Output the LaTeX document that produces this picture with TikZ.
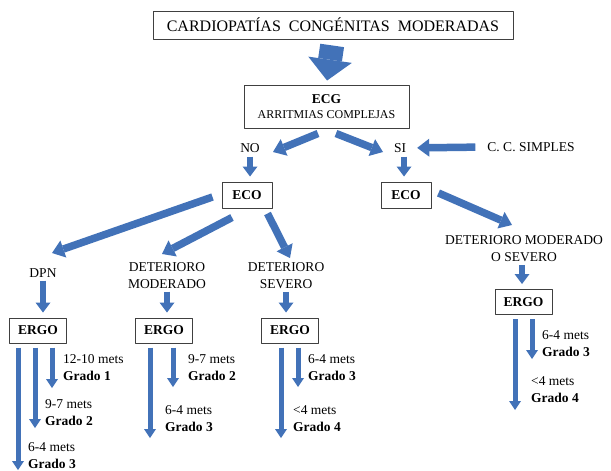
\documentclass[tikz,border=0pt]{standalone}
\usepackage{fontspec}
\setmainfont{Liberation Serif}
\usetikzlibrary{arrows.meta}
\definecolor{azul}{RGB}{66,114,184}
\begin{document}
\begin{tikzpicture}[x=1pt, y=-1pt, line join=round, font=\fontsize{13.5}{17}\selectfont,
	caja/.style={draw=black!75, line width=1pt, fill=white, inner sep=0pt, align=center},
	texto/.style={inner sep=1pt, align=center},
	flecha/.style={draw=azul, line width=7.5pt, -{Triangle[width=18pt,length=12pt,line width=0pt]}},
	bajada/.style={draw=azul, line width=6.5pt, -{Triangle[width=15pt,length=10pt,line width=0pt]}},
	grado/.style={draw=azul, line width=5pt, -{Triangle[width=12pt,length=9pt,line width=0pt]}, shorten <=4pt}]
	\useasboundingbox (0,0) rectangle (611,471);
	\node [caja, minimum width=360pt, minimum height=28pt, font=\fontsize{16}{18}\selectfont] (titulo) at (333,25) {CARDIOPATÍAS\ \ CONGÉNITAS\ \ MODERADAS};
	\node [caja, minimum width=165pt, minimum height=43pt] (ecg) at (326.5,106.5) {\textbf{ECG}\\[-2pt]{\fontsize{12}{14}\selectfont ARRITMIAS COMPLEJAS}};
	\node [texto] (no) at (250,148) {NO};
	\node [texto] (si) at (400,148) {SI};
	\node [texto] (ccs) at (531,147) {C. C. SIMPLES};
	\node [caja, minimum width=50pt, minimum height=26pt] (ecoL) at (247,195) {\textbf{ECO}};
	\node [caja, minimum width=50pt, minimum height=26pt] (ecoR) at (406,195) {\textbf{ECO}};
	\node [texto] (dpn) at (43,273) {DPN};
	\node [texto] (detMod) at (167,275.5) {DETERIORO\\MODERADO};
	\node [texto] (detSev) at (286,275.5) {DETERIORO\\SEVERO};
	\node [texto] (detMS) at (524,248.5) {DETERIORO MODERADO\\O SEVERO};
	\foreach \n/\x/\y in {ergoA/38/330.5,ergoB/164/330.5,ergoC/290/330.5,ergoD/523.5/302}{
		\node [caja, minimum width=57pt, minimum height=25pt] (\n) at (\x,\y) {\textbf{ERGO}};
	}
	\draw [azul, line width=24pt, -{Triangle[width=44pt,length=21pt,line width=0pt]}, shorten <=6pt, shorten >=4pt] (titulo.south) -- (ecg.north);
	\draw [flecha] ([xshift=-8.5pt,yshift=-5pt]ecg.south) -- ([xshift=23pt,yshift=-4pt]no.center);
	\draw [flecha] ([xshift=9.5pt,yshift=-5pt]ecg.south) -- ([xshift=-17pt,yshift=-4pt]si.center);
	\draw [flecha, shorten <=11pt, shorten >=10pt] (ccs.west) -- (si.east);
	\draw [bajada, shorten <=3pt, shorten >=5pt] (no.south) -- (no.south |- ecoL.north);
	\draw [bajada, shorten <=3pt, shorten >=5pt] ([xshift=4pt]si.south) -- ([xshift=4pt]si.south |- ecoR.north);
	\draw [flecha] ([xshift=-9pt,yshift=-2pt]ecoL.west) -- ([xshift=9pt,yshift=20pt]dpn.center);
	\draw [flecha] ([xshift=-15pt,yshift=-9pt]ecoL.south) -- ([xshift=-5pt,yshift=21.5pt]detMod.center);
	\draw [flecha] ([xshift=-5pt,yshift=-5pt]ecoL.south east) -- ([xshift=4pt,yshift=17.5pt]detSev.center);
	\draw [flecha] ([xshift=7pt,yshift=2pt]ecoR.east) -- ([xshift=-12pt,yshift=23.5pt]detMS.center);
	\draw [bajada, shorten <=2pt, shorten >=5pt] (dpn.south) -- (dpn.south |- ergoA.north);
	\draw [bajada, shorten <=2pt, shorten >=5pt] (detMod.south) -- (detMod.south |- ergoB.north);
	\draw [bajada, shorten <=2pt, shorten >=5pt] (detSev.south) -- (detSev.south |- ergoC.north);
	\draw [bajada, shorten <=2pt, shorten >=5pt] ([xshift=-2pt]detMS.south) -- ([xshift=-2pt]detMS.south |- ergoD.north);
	\foreach \c/\n/\x/\y in {ergoA/a1/18/470,ergoA/a2/35/428,ergoA/a3/52/388,ergoB/b1/150/438,ergoB/b2/173/387,
		ergoC/c1/281/438,ergoC/c2/298/387,ergoD/d1/515/410,ergoD/d2/532/359}{
		\coordinate (\n) at (\x,\y);
		\draw [grado] (\c.south -| \n) -- (\n);
	}
	\foreach \n/\x/\y/\m/\g in {ta1/63/367.5/12-10/1,ta2/45/412.5/9-7/2,ta3/28/455.5/6-4/3,tb1/188/367.5/9-7/2,tb2/165/418.5/6-4/3,
		tc1/308/367.5/6-4/3,tc2/293/418.5/<4/4,td1/542/344/6-4/3,td2/531/390/<4/4}{
		\node [inner sep=0pt, anchor=west, align=left] (\n) at (\x,\y) {\m\ mets\\\textbf{Grado \g}};
	}
\end{tikzpicture}
\end{document}
